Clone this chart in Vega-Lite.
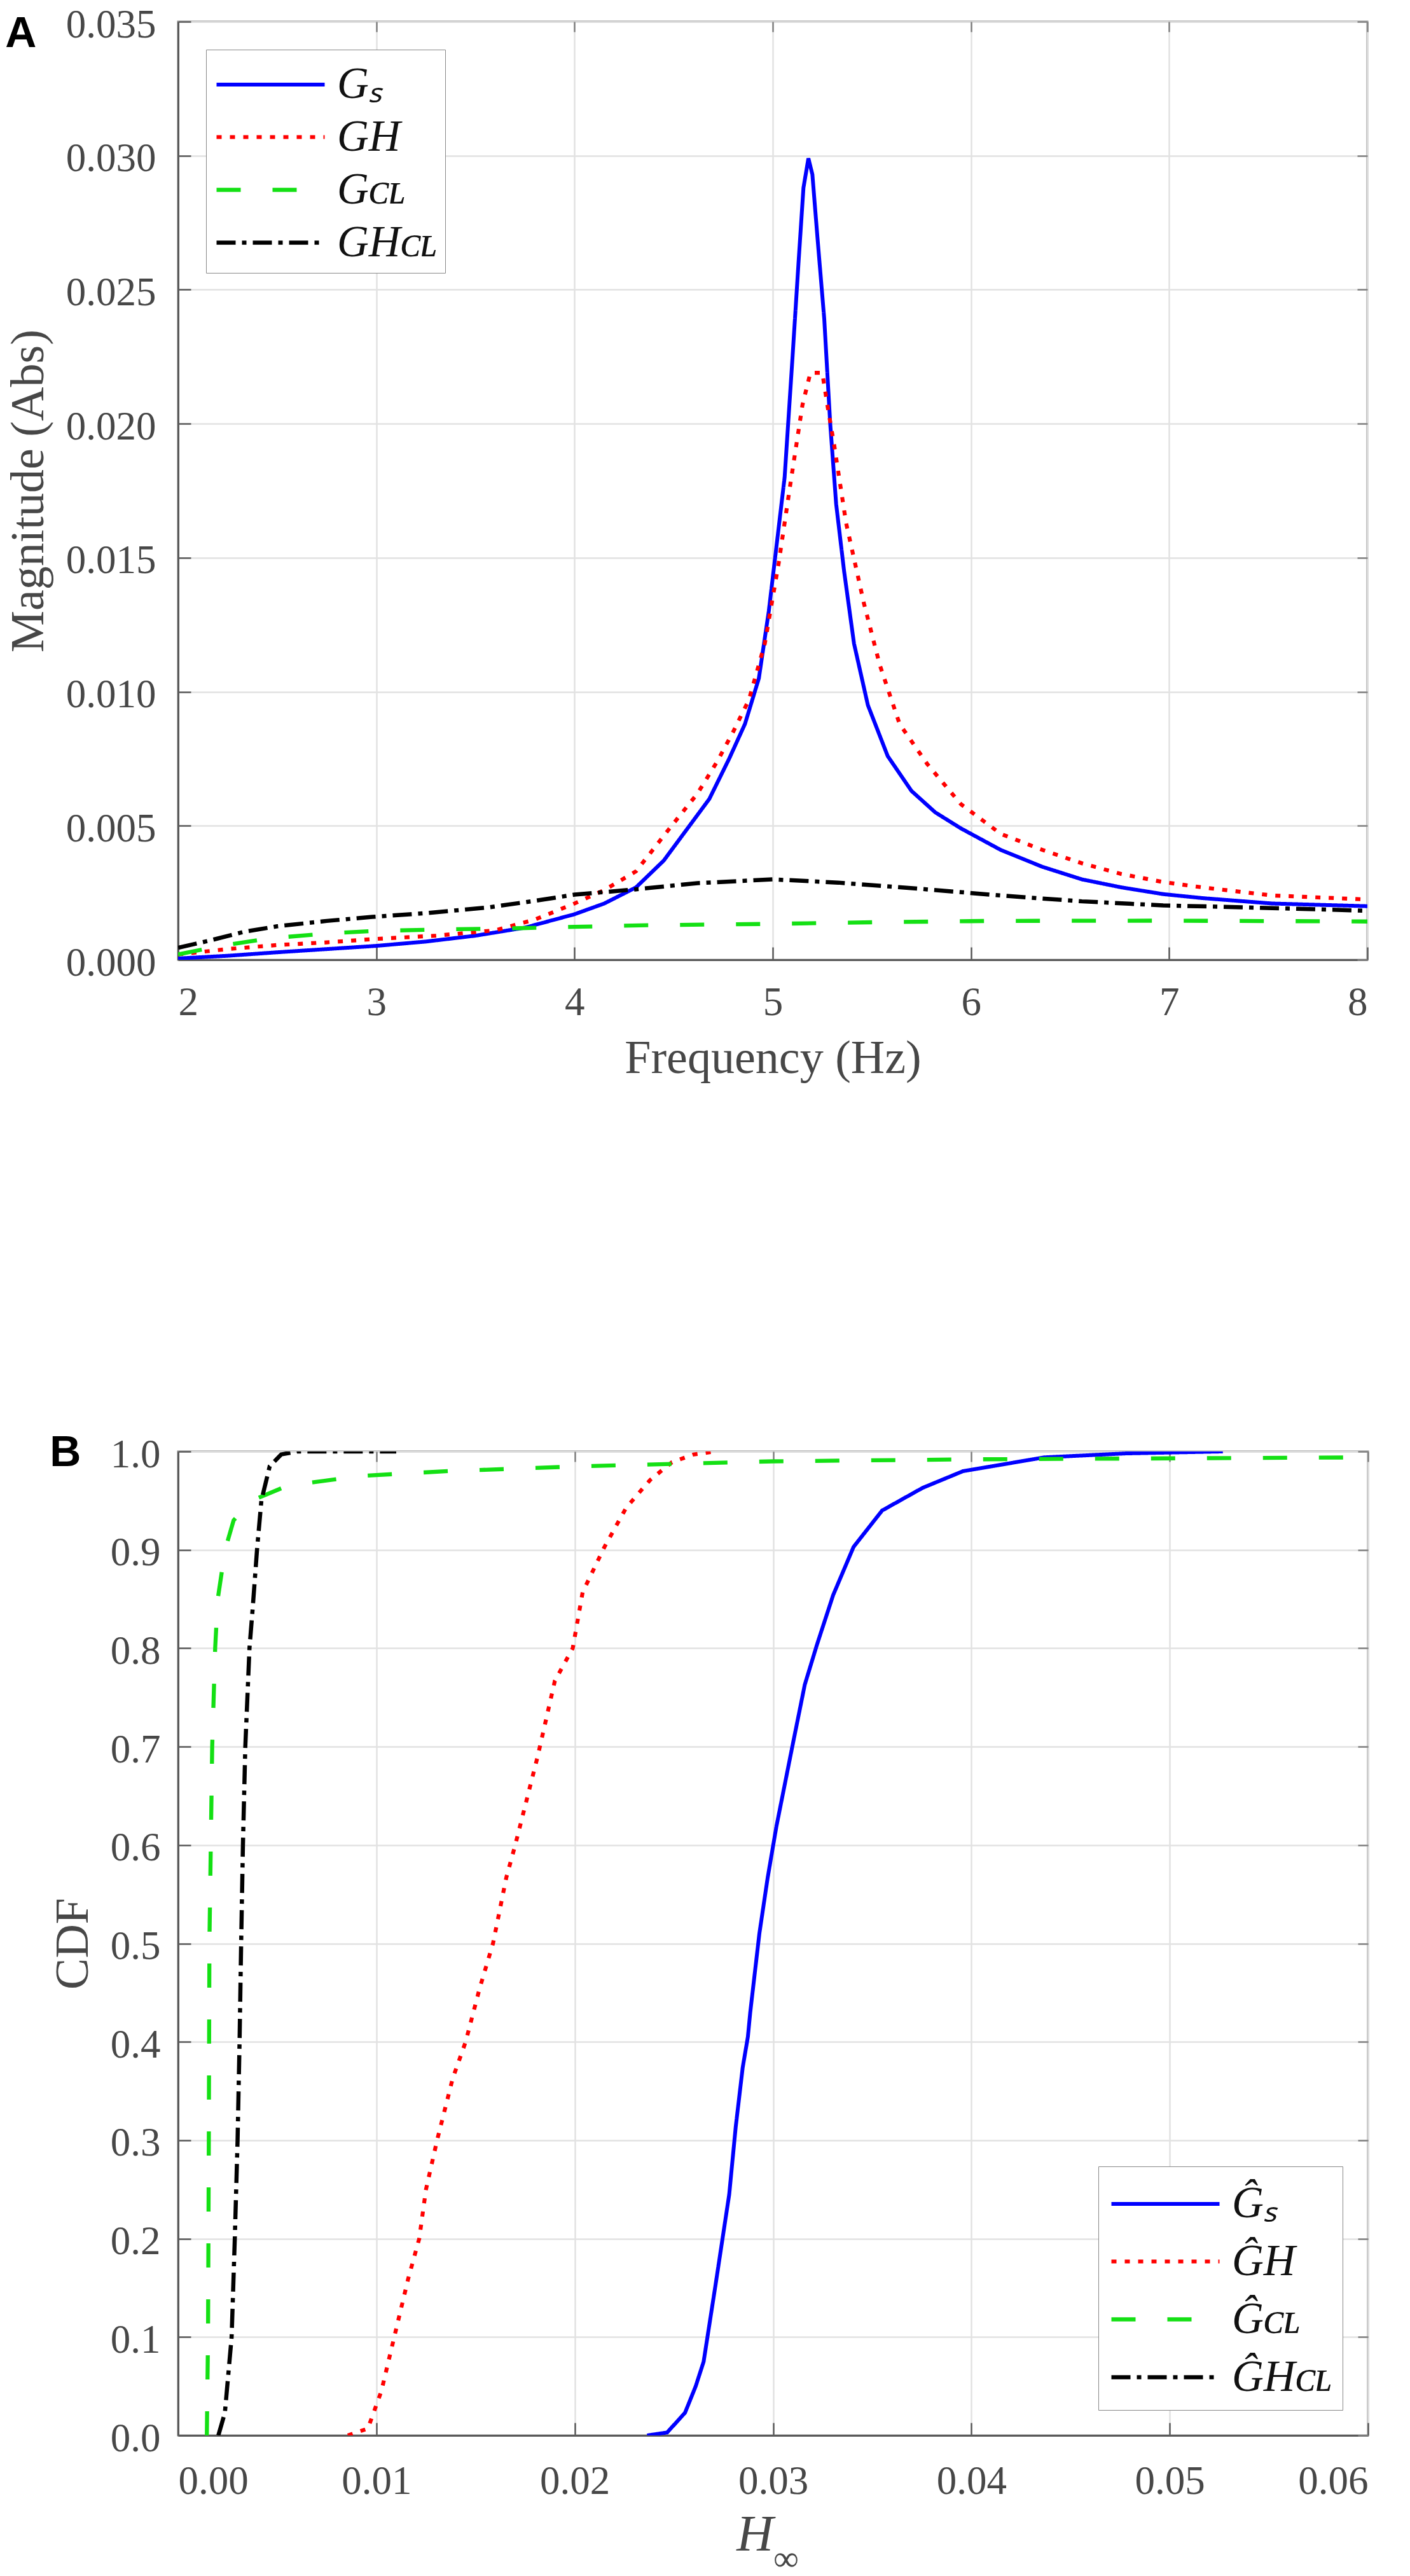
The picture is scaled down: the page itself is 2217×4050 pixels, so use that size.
{
  "$schema": "https://vega.github.io/schema/vega-lite/v6.json",
  "background": "white",
  "padding": {"left": 6, "top": 6, "right": 8, "bottom": 0},
  "bounds": "flush",
  "spacing": 773,
  "config": {
    "view": {"stroke": "#8c8c8c", "strokeWidth": 3},
    "axis": {
      "labelFont": "Liberation Serif",
      "labelFontSize": 63,
      "labelColor": "#474747",
      "titleFont": "Liberation Serif",
      "titleFontSize": 74,
      "titleFontWeight": "normal",
      "titleColor": "#474747",
      "gridColor": "#e2e2e2",
      "gridWidth": 2.5,
      "domainColor": "#5a5a5a",
      "domainWidth": 3,
      "tickColor": "#5a5a5a",
      "tickWidth": 2.5,
      "tickSize": -20
    },
    "legend": {
      "title": null,
      "symbolType": "M-1,0H3.25",
      "symbolSize": 6400,
      "symbolOffset": 1,
      "symbolStrokeWidth": 6,
      "labelFont": "Liberation Serif",
      "labelFontStyle": "italic",
      "labelFontSize": 69,
      "labelColor": "#111111",
      "labelOffset": 106,
      "labelLimit": 0,
      "strokeColor": "#888888",
      "fillColor": "white",
      "offset": 44
    },
    "title": {
      "anchor": "start",
      "frame": "bounds",
      "font": "Liberation Sans",
      "fontSize": 68,
      "fontWeight": "bold",
      "color": "black"
    }
  },
  "datasets": {
    "freq": [
      {"series": "G\u209b", "f": 2.0, "m": 0.00005},
      {"series": "G\u209b", "f": 2.25, "m": 0.00015},
      {"series": "G\u209b", "f": 2.5, "m": 0.00028},
      {"series": "G\u209b", "f": 2.75, "m": 0.0004},
      {"series": "G\u209b", "f": 3.0, "m": 0.00052},
      {"series": "G\u209b", "f": 3.25, "m": 0.00068},
      {"series": "G\u209b", "f": 3.5, "m": 0.0009},
      {"series": "G\u209b", "f": 3.75, "m": 0.0012},
      {"series": "G\u209b", "f": 4.0, "m": 0.0017},
      {"series": "G\u209b", "f": 4.15, "m": 0.0021},
      {"series": "G\u209b", "f": 4.31, "m": 0.0027},
      {"series": "G\u209b", "f": 4.45, "m": 0.0037},
      {"series": "G\u209b", "f": 4.58, "m": 0.005},
      {"series": "G\u209b", "f": 4.68, "m": 0.006},
      {"series": "G\u209b", "f": 4.78, "m": 0.0075},
      {"series": "G\u209b", "f": 4.86, "m": 0.0088},
      {"series": "G\u209b", "f": 4.93, "m": 0.0105},
      {"series": "G\u209b", "f": 4.98, "m": 0.013},
      {"series": "G\u209b", "f": 5.02, "m": 0.0155},
      {"series": "G\u209b", "f": 5.06, "m": 0.018},
      {"series": "G\u209b", "f": 5.1, "m": 0.0225},
      {"series": "G\u209b", "f": 5.13, "m": 0.026},
      {"series": "G\u209b", "f": 5.155, "m": 0.0288},
      {"series": "G\u209b", "f": 5.18, "m": 0.0299},
      {"series": "G\u209b", "f": 5.2, "m": 0.0293},
      {"series": "G\u209b", "f": 5.225, "m": 0.027},
      {"series": "G\u209b", "f": 5.26, "m": 0.0239},
      {"series": "G\u209b", "f": 5.29, "m": 0.02},
      {"series": "G\u209b", "f": 5.32, "m": 0.017},
      {"series": "G\u209b", "f": 5.36, "m": 0.0145},
      {"series": "G\u209b", "f": 5.41, "m": 0.0118},
      {"series": "G\u209b", "f": 5.48, "m": 0.0095},
      {"series": "G\u209b", "f": 5.58, "m": 0.0076},
      {"series": "G\u209b", "f": 5.7, "m": 0.0063},
      {"series": "G\u209b", "f": 5.82, "m": 0.0055},
      {"series": "G\u209b", "f": 5.95, "m": 0.0049},
      {"series": "G\u209b", "f": 6.15, "m": 0.0041},
      {"series": "G\u209b", "f": 6.36, "m": 0.00347},
      {"series": "G\u209b", "f": 6.56, "m": 0.003},
      {"series": "G\u209b", "f": 6.76, "m": 0.0027},
      {"series": "G\u209b", "f": 6.97, "m": 0.00245},
      {"series": "G\u209b", "f": 7.17, "m": 0.0023},
      {"series": "G\u209b", "f": 7.52, "m": 0.0021},
      {"series": "G\u209b", "f": 8.0, "m": 0.002},

      {"series": "GH", "f": 2.0, "m": 0.0002},
      {"series": "GH", "f": 2.25, "m": 0.0004},
      {"series": "GH", "f": 2.5, "m": 0.00055},
      {"series": "GH", "f": 2.75, "m": 0.00065},
      {"series": "GH", "f": 3.0, "m": 0.00078},
      {"series": "GH", "f": 3.3, "m": 0.0009},
      {"series": "GH", "f": 3.6, "m": 0.0011},
      {"series": "GH", "f": 3.8, "m": 0.0015},
      {"series": "GH", "f": 4.0, "m": 0.0021},
      {"series": "GH", "f": 4.15, "m": 0.0026},
      {"series": "GH", "f": 4.31, "m": 0.0033},
      {"series": "GH", "f": 4.49, "m": 0.005},
      {"series": "GH", "f": 4.62, "m": 0.0062},
      {"series": "GH", "f": 4.72, "m": 0.0074},
      {"series": "GH", "f": 4.8, "m": 0.0085},
      {"series": "GH", "f": 4.88, "m": 0.0097},
      {"series": "GH", "f": 4.96, "m": 0.0118},
      {"series": "GH", "f": 5.03, "m": 0.0148},
      {"series": "GH", "f": 5.09, "m": 0.0178},
      {"series": "GH", "f": 5.15, "m": 0.0207},
      {"series": "GH", "f": 5.19, "m": 0.0219},
      {"series": "GH", "f": 5.25, "m": 0.0219},
      {"series": "GH", "f": 5.28, "m": 0.0205},
      {"series": "GH", "f": 5.31, "m": 0.0192},
      {"series": "GH", "f": 5.37, "m": 0.0163},
      {"series": "GH", "f": 5.46, "m": 0.0133},
      {"series": "GH", "f": 5.54, "m": 0.011},
      {"series": "GH", "f": 5.64, "m": 0.0088},
      {"series": "GH", "f": 5.78, "m": 0.0073},
      {"series": "GH", "f": 5.95, "m": 0.0058},
      {"series": "GH", "f": 6.15, "m": 0.0047},
      {"series": "GH", "f": 6.36, "m": 0.0041},
      {"series": "GH", "f": 6.56, "m": 0.0036},
      {"series": "GH", "f": 6.76, "m": 0.0032},
      {"series": "GH", "f": 6.97, "m": 0.0029},
      {"series": "GH", "f": 7.17, "m": 0.0027},
      {"series": "GH", "f": 7.52, "m": 0.0024},
      {"series": "GH", "f": 8.0, "m": 0.00225},

      {"series": "G\u1d04\u029f", "f": 2.0, "m": 0.0002},
      {"series": "G\u1d04\u029f", "f": 2.2, "m": 0.0005},
      {"series": "G\u1d04\u029f", "f": 2.46, "m": 0.0008},
      {"series": "G\u1d04\u029f", "f": 2.75, "m": 0.00098},
      {"series": "G\u1d04\u029f", "f": 3.0, "m": 0.00108},
      {"series": "G\u1d04\u029f", "f": 3.4, "m": 0.00114},
      {"series": "G\u1d04\u029f", "f": 3.73, "m": 0.00118},
      {"series": "G\u1d04\u029f", "f": 4.0, "m": 0.00123},
      {"series": "G\u1d04\u029f", "f": 4.37, "m": 0.00129},
      {"series": "G\u1d04\u029f", "f": 5.0, "m": 0.00134},
      {"series": "G\u1d04\u029f", "f": 5.5, "m": 0.0014},
      {"series": "G\u1d04\u029f", "f": 6.09, "m": 0.00145},
      {"series": "G\u1d04\u029f", "f": 7.0, "m": 0.00146},
      {"series": "G\u1d04\u029f", "f": 8.0, "m": 0.00143},

      {"series": "GH\u1d04\u029f", "f": 2.0, "m": 0.00045},
      {"series": "GH\u1d04\u029f", "f": 2.15, "m": 0.0007},
      {"series": "GH\u1d04\u029f", "f": 2.33, "m": 0.00104},
      {"series": "GH\u1d04\u029f", "f": 2.5, "m": 0.00125},
      {"series": "GH\u1d04\u029f", "f": 2.75, "m": 0.00145},
      {"series": "GH\u1d04\u029f", "f": 2.98, "m": 0.0016},
      {"series": "GH\u1d04\u029f", "f": 3.25, "m": 0.00174},
      {"series": "GH\u1d04\u029f", "f": 3.56, "m": 0.00195},
      {"series": "GH\u1d04\u029f", "f": 3.8, "m": 0.0022},
      {"series": "GH\u1d04\u029f", "f": 4.0, "m": 0.00243},
      {"series": "GH\u1d04\u029f", "f": 4.31, "m": 0.00263},
      {"series": "GH\u1d04\u029f", "f": 4.62, "m": 0.00286},
      {"series": "GH\u1d04\u029f", "f": 5.0, "m": 0.003},
      {"series": "GH\u1d04\u029f", "f": 5.33, "m": 0.00288},
      {"series": "GH\u1d04\u029f", "f": 5.74, "m": 0.00265},
      {"series": "GH\u1d04\u029f", "f": 6.15, "m": 0.0024},
      {"series": "GH\u1d04\u029f", "f": 6.56, "m": 0.00218},
      {"series": "GH\u1d04\u029f", "f": 6.97, "m": 0.00203},
      {"series": "GH\u1d04\u029f", "f": 7.52, "m": 0.00193},
      {"series": "GH\u1d04\u029f", "f": 8.0, "m": 0.00183}
    ],
    "cdf": [
      {"series": "\u011c\u209b", "h": 0.02365, "p": 0},
      {"series": "\u011c\u209b", "h": 0.02466, "p": 0.003},
      {"series": "\u011c\u209b", "h": 0.02556, "p": 0.023},
      {"series": "\u011c\u209b", "h": 0.0261, "p": 0.05},
      {"series": "\u011c\u209b", "h": 0.0265, "p": 0.075},
      {"series": "\u011c\u209b", "h": 0.0271, "p": 0.153},
      {"series": "\u011c\u209b", "h": 0.02779, "p": 0.245},
      {"series": "\u011c\u209b", "h": 0.02812, "p": 0.314},
      {"series": "\u011c\u209b", "h": 0.02847, "p": 0.374},
      {"series": "\u011c\u209b", "h": 0.02873, "p": 0.405},
      {"series": "\u011c\u209b", "h": 0.02885, "p": 0.43},
      {"series": "\u011c\u209b", "h": 0.02931, "p": 0.51},
      {"series": "\u011c\u209b", "h": 0.02973, "p": 0.567},
      {"series": "\u011c\u209b", "h": 0.03017, "p": 0.619},
      {"series": "\u011c\u209b", "h": 0.03098, "p": 0.701},
      {"series": "\u011c\u209b", "h": 0.0316, "p": 0.763},
      {"series": "\u011c\u209b", "h": 0.03222, "p": 0.804},
      {"series": "\u011c\u209b", "h": 0.03303, "p": 0.854},
      {"series": "\u011c\u209b", "h": 0.03406, "p": 0.903},
      {"series": "\u011c\u209b", "h": 0.0355, "p": 0.94},
      {"series": "\u011c\u209b", "h": 0.03754, "p": 0.963},
      {"series": "\u011c\u209b", "h": 0.03958, "p": 0.98},
      {"series": "\u011c\u209b", "h": 0.04368, "p": 0.994},
      {"series": "\u011c\u209b", "h": 0.04777, "p": 0.998},
      {"series": "\u011c\u209b", "h": 0.05268, "p": 1.0},

      {"series": "\u011cH", "h": 0.00856, "p": 0},
      {"series": "\u011cH", "h": 0.00957, "p": 0.007},
      {"series": "\u011cH", "h": 0.01025, "p": 0.045},
      {"series": "\u011cH", "h": 0.0109, "p": 0.1},
      {"series": "\u011cH", "h": 0.0116, "p": 0.159},
      {"series": "\u011cH", "h": 0.01216, "p": 0.2},
      {"series": "\u011cH", "h": 0.0125, "p": 0.25},
      {"series": "\u011cH", "h": 0.01306, "p": 0.3},
      {"series": "\u011cH", "h": 0.01385, "p": 0.363},
      {"series": "\u011cH", "h": 0.0145, "p": 0.4},
      {"series": "\u011cH", "h": 0.0152, "p": 0.454},
      {"series": "\u011cH", "h": 0.01588, "p": 0.5},
      {"series": "\u011cH", "h": 0.01655, "p": 0.567},
      {"series": "\u011cH", "h": 0.017, "p": 0.6},
      {"series": "\u011cH", "h": 0.01813, "p": 0.69},
      {"series": "\u011cH", "h": 0.019, "p": 0.767},
      {"series": "\u011cH", "h": 0.0199, "p": 0.8},
      {"series": "\u011cH", "h": 0.0204, "p": 0.857},
      {"series": "\u011cH", "h": 0.0215, "p": 0.903},
      {"series": "\u011cH", "h": 0.0226, "p": 0.943},
      {"series": "\u011cH", "h": 0.0238, "p": 0.971},
      {"series": "\u011cH", "h": 0.0249, "p": 0.989},
      {"series": "\u011cH", "h": 0.026, "p": 0.997},
      {"series": "\u011cH", "h": 0.0271, "p": 1.0},

      {"series": "\u011c\u1d04\u029f", "h": 0.00145, "p": 0},
      {"series": "\u011c\u1d04\u029f", "h": 0.00151, "p": 0.1},
      {"series": "\u011c\u1d04\u029f", "h": 0.00155, "p": 0.3},
      {"series": "\u011c\u1d04\u029f", "h": 0.00158, "p": 0.5},
      {"series": "\u011c\u1d04\u029f", "h": 0.00165, "p": 0.6},
      {"series": "\u011c\u1d04\u029f", "h": 0.00172, "p": 0.7},
      {"series": "\u011c\u1d04\u029f", "h": 0.00187, "p": 0.8},
      {"series": "\u011c\u1d04\u029f", "h": 0.002, "p": 0.85},
      {"series": "\u011c\u1d04\u029f", "h": 0.00237, "p": 0.9},
      {"series": "\u011c\u1d04\u029f", "h": 0.0028, "p": 0.93},
      {"series": "\u011c\u1d04\u029f", "h": 0.0037, "p": 0.95},
      {"series": "\u011c\u1d04\u029f", "h": 0.0055, "p": 0.965},
      {"series": "\u011c\u1d04\u029f", "h": 0.0091, "p": 0.975},
      {"series": "\u011c\u1d04\u029f", "h": 0.0136, "p": 0.98},
      {"series": "\u011c\u1d04\u029f", "h": 0.0204, "p": 0.985},
      {"series": "\u011c\u1d04\u029f", "h": 0.03, "p": 0.99},
      {"series": "\u011c\u1d04\u029f", "h": 0.04, "p": 0.992},
      {"series": "\u011c\u1d04\u029f", "h": 0.06, "p": 0.994},

      {"series": "\u011cH\u1d04\u029f", "h": 0.00203, "p": 0},
      {"series": "\u011cH\u1d04\u029f", "h": 0.00236, "p": 0.023},
      {"series": "\u011cH\u1d04\u029f", "h": 0.0027, "p": 0.1},
      {"series": "\u011cH\u1d04\u029f", "h": 0.00286, "p": 0.2},
      {"series": "\u011cH\u1d04\u029f", "h": 0.003, "p": 0.3},
      {"series": "\u011cH\u1d04\u029f", "h": 0.0031, "p": 0.4},
      {"series": "\u011cH\u1d04\u029f", "h": 0.00318, "p": 0.5},
      {"series": "\u011cH\u1d04\u029f", "h": 0.00327, "p": 0.6},
      {"series": "\u011cH\u1d04\u029f", "h": 0.00339, "p": 0.7},
      {"series": "\u011cH\u1d04\u029f", "h": 0.0036, "p": 0.8},
      {"series": "\u011cH\u1d04\u029f", "h": 0.00376, "p": 0.84},
      {"series": "\u011cH\u1d04\u029f", "h": 0.00398, "p": 0.9},
      {"series": "\u011cH\u1d04\u029f", "h": 0.0042, "p": 0.95},
      {"series": "\u011cH\u1d04\u029f", "h": 0.00462, "p": 0.985},
      {"series": "\u011cH\u1d04\u029f", "h": 0.0052, "p": 0.997},
      {"series": "\u011cH\u1d04\u029f", "h": 0.006, "p": 1.0},
      {"series": "\u011cH\u1d04\u029f", "h": 0.011, "p": 1.0}
    ]
  },
  "resolve": {
    "scale": {"color": "independent", "strokeDash": "independent", "strokeWidth": "independent"},
    "legend": {"color": "independent", "strokeDash": "independent"}
  },
  "vconcat": [
    {
      "width": 1870,
      "height": 1475,
      "title": {"text": "A", "offset": -80},
      "data": {"name": "freq"},
      "resolve": {"axis": {"x": "independent", "y": "independent"}},
      "layer": [
        {
          "mark": {"type": "line", "clip": true},
          "encoding": {
            "x": {
              "field": "f", "type": "quantitative",
              "scale": {"domain": [2, 8], "nice": false, "zero": false},
              "axis": {"title": "Frequency (Hz)", "values": [2, 3, 4, 5, 6, 7, 8], "format": "d", "labelFont": "Liberation Serif", "labelPadding": 56, "titlePadding": 20}
            },
            "y": {
              "field": "m", "type": "quantitative",
              "scale": {"domain": [0, 0.035], "nice": false},
              "axis": {"title": "Magnitude (Abs)", "values": [0, 0.005, 0.01, 0.015, 0.02, 0.025, 0.03, 0.035], "format": ".3f", "labelFont": "Liberation Serif", "labelPadding": 55, "labelOffset": 5, "titlePadding": 20}
            },
            "color": {
              "field": "series", "type": "nominal",
              "scale": {"domain": ["G\u209b", "GH", "G\u1d04\u029f", "GH\u1d04\u029f"], "range": ["#0000ff", "#ff0000", "#14e014", "#000000"]},
              "legend": {"orient": "top-left", "padding": 12, "rowPadding": 4}
            },
            "strokeDash": {
              "field": "series", "type": "nominal",
              "scale": {"domain": ["G\u209b", "GH", "G\u1d04\u029f", "GH\u1d04\u029f"], "range": [[1, 0], [8, 13], [38, 50], [30, 10, 7, 10]]},
              "legend": {"orient": "top-left", "padding": 12, "rowPadding": 4}
            },
            "strokeWidth": {
              "field": "series", "type": "nominal",
              "scale": {"domain": ["G\u209b", "GH", "G\u1d04\u029f", "GH\u1d04\u029f"], "range": [6, 6.5, 9, 7.5]},
              "legend": null
            }
          }
        },
        {
          "mark": {"type": "line", "opacity": 0},
          "encoding": {
            "x": {
              "field": "f", "type": "quantitative",
              "axis": {"orient": "top", "values": [2, 3, 4, 5, 6, 7, 8], "labels": false, "title": null, "grid": false, "domain": false, "tickColor": "#808080", "tickSize": -16}
            },
            "y": {
              "field": "m", "type": "quantitative",
              "axis": {"orient": "right", "values": [0, 0.005, 0.01, 0.015, 0.02, 0.025, 0.03, 0.035], "labels": false, "title": null, "grid": false, "domain": false, "tickColor": "#808080", "tickSize": -16}
            },
            "detail": {"field": "series", "type": "nominal"}
          }
        }
      ]
    },
    {
      "width": 1871,
      "height": 1547,
      "title": {"text": "B", "offset": -63},
      "data": {"name": "cdf"},
      "resolve": {"axis": {"x": "independent", "y": "independent"}},
      "layer": [
        {
          "mark": {"type": "line", "clip": true},
          "encoding": {
            "x": {
              "field": "h", "type": "quantitative",
              "scale": {"domain": [0, 0.06], "nice": false},
              "axis": {
                "orient": "bottom",
                "title": "H",
                "titleFontStyle": "italic",
                "titleFontSize": 80,
                "titleAlign": "right",
                "values": [0, 0.01, 0.02, 0.03, 0.04, 0.05, 0.06], "format": ".2f", "labelFont": "Liberation Serif", "labelPadding": 61, "titlePadding": 13
              }
            },
            "y": {
              "field": "p", "type": "quantitative",
              "scale": {"domain": [0, 1], "nice": false},
              "axis": {"title": "CDF", "values": [0, 0.1, 0.2, 0.3, 0.4, 0.5, 0.6, 0.7, 0.8, 0.9, 1], "format": ".1f", "labelFont": "Liberation Serif", "labelPadding": 48, "labelOffset": 5, "titlePadding": 20}
            },
            "color": {
              "field": "series", "type": "nominal",
              "scale": {"domain": ["\u011c\u209b", "\u011cH", "\u011c\u1d04\u029f", "\u011cH\u1d04\u029f"], "range": ["#0000ff", "#ff0000", "#14e014", "#000000"]},
              "legend": {"orient": "bottom-right", "padding": 16, "rowPadding": 12, "offset": 40}
            },
            "strokeDash": {
              "field": "series", "type": "nominal",
              "scale": {"domain": ["\u011c\u209b", "\u011cH", "\u011c\u1d04\u029f", "\u011cH\u1d04\u029f"], "range": [[1, 0], [8, 13], [38, 50], [30, 10, 7, 10]]},
              "legend": {"orient": "bottom-right", "padding": 16, "rowPadding": 12, "offset": 40}
            },
            "strokeWidth": {
              "field": "series", "type": "nominal",
              "scale": {"domain": ["\u011c\u209b", "\u011cH", "\u011c\u1d04\u029f", "\u011cH\u1d04\u029f"], "range": [6, 6.5, 9, 7.5]},
              "legend": null
            }
          }
        },
        {
          "mark": {"type": "line", "opacity": 0},
          "encoding": {
            "x": {
              "field": "h", "type": "quantitative",
              "axis": {"orient": "top", "values": [0, 0.01, 0.02, 0.03, 0.04, 0.05, 0.06], "labels": false, "title": null, "grid": false, "domain": false, "tickColor": "#808080", "tickSize": -16}
            },
            "y": {
              "field": "p", "type": "quantitative",
              "axis": {"orient": "right", "values": [0, 0.1, 0.2, 0.3, 0.4, 0.5, 0.6, 0.7, 0.8, 0.9, 1], "labels": false, "title": null, "grid": false, "domain": false, "tickColor": "#808080", "tickSize": -16}
            },
            "detail": {"field": "series", "type": "nominal"}
          }
        },
        {
          "mark": {"type": "line", "opacity": 0},
          "encoding": {
            "x": {
              "field": "h", "type": "quantitative",
              "axis": {"orient": "bottom", "labels": false, "ticks": false, "domain": false, "grid": false, "title": "\u221e", "titleFontSize": 56, "titleAlign": "left", "titleBaseline": "alphabetic", "titlePadding": 211}
            },
            "y": {"field": "p", "type": "quantitative", "axis": null},
            "detail": {"field": "series", "type": "nominal"}
          }
        }
      ]
    }
  ]
}
